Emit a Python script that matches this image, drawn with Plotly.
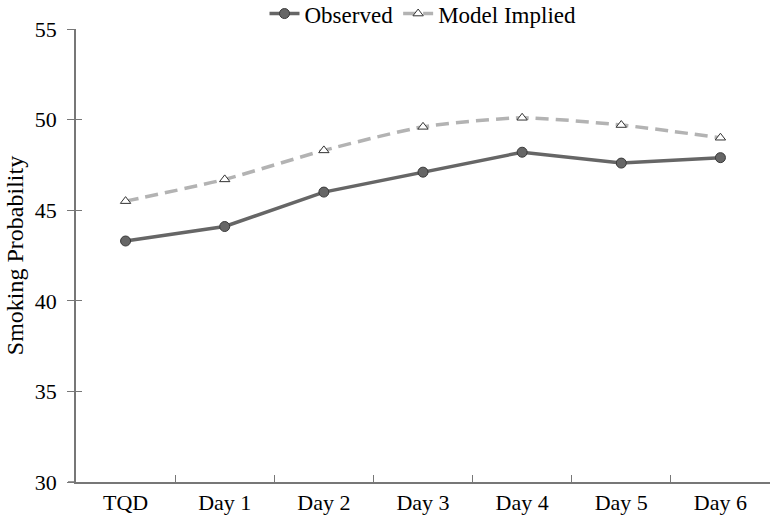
import plotly.graph_objects as go

categories = ["TQD", "Day 1", "Day 2", "Day 3", "Day 4", "Day 5", "Day 6"]
observed = [43.3, 44.1, 46.0, 47.1, 48.2, 47.6, 47.9]
model_implied = [45.5, 46.7, 48.3, 49.6, 50.1, 49.7, 49.0]
y_ticks = [30, 35, 40, 45, 50, 55]

font_family = "Liberation Serif, Times New Roman, serif"

fig = go.Figure()
fig.add_trace(go.Scatter(
    x=categories, y=observed, name="Observed", mode="lines+markers",
    line=dict(color="#666666", width=3.5),
    marker=dict(symbol="circle", size=10, color="#666666", line=dict(color="#3a3a3a", width=1)),
))
fig.add_trace(go.Scatter(
    x=categories, y=model_implied, name="Model Implied", mode="lines+markers",
    line=dict(color="#b3b3b3", width=3.5, dash="13px,7px", shape="spline", smoothing=0.6),
    marker=dict(symbol="triangle-up", size=9, color="white", line=dict(color="#333333", width=1)),
))

fig.update_layout(
    width=774, height=525,
    margin=dict(l=76, r=4, t=29, b=43, autoexpand=False),
    plot_bgcolor="white", paper_bgcolor="white",
    font=dict(family=font_family, size=22, color="black"),
    showlegend=True,
    legend=dict(orientation="h", x=0.5, xanchor="center", y=1.034, yanchor="middle",
                font=dict(size=23), itemwidth=30, bgcolor="rgba(0,0,0,0)"),
    xaxis=dict(
        type="category", range=[-0.5, 6.5], showline=True, linecolor="#777777", linewidth=1.5,
        showgrid=False, ticks="inside", ticklen=7, tickcolor="#777777",
        tickson="boundaries", zeroline=False,
    ),
    yaxis=dict(
        range=[30, 55], tickvals=y_ticks, showline=True, linecolor="#777777", linewidth=1.5,
        showgrid=False, ticks="outside", ticklen=7, tickcolor="#777777", zeroline=False,
        ticklabelstandoff=6,
        title=dict(text="Smoking Probability", font=dict(size=24), standoff=4),
    ),
    yaxis2=dict(
        range=[30, 55], tickvals=y_ticks, overlaying="y", side="left", showticklabels=False,
        ticks="inside", ticklen=6, tickcolor="#777777", showgrid=False, zeroline=False, showline=False,
    ),
    shapes=[dict(type="line", xref="paper", yref="paper", x0=-8 / 694, x1=0, y0=0, y1=0,
                 line=dict(color="#777777", width=1.5))],
)
# invisible trace to activate yaxis2
fig.add_trace(go.Scatter(x=categories[:1], y=[30], yaxis="y2", mode="markers",
                         marker=dict(opacity=0), showlegend=False, hoverinfo="skip"))

fig.write_html("out.html")
